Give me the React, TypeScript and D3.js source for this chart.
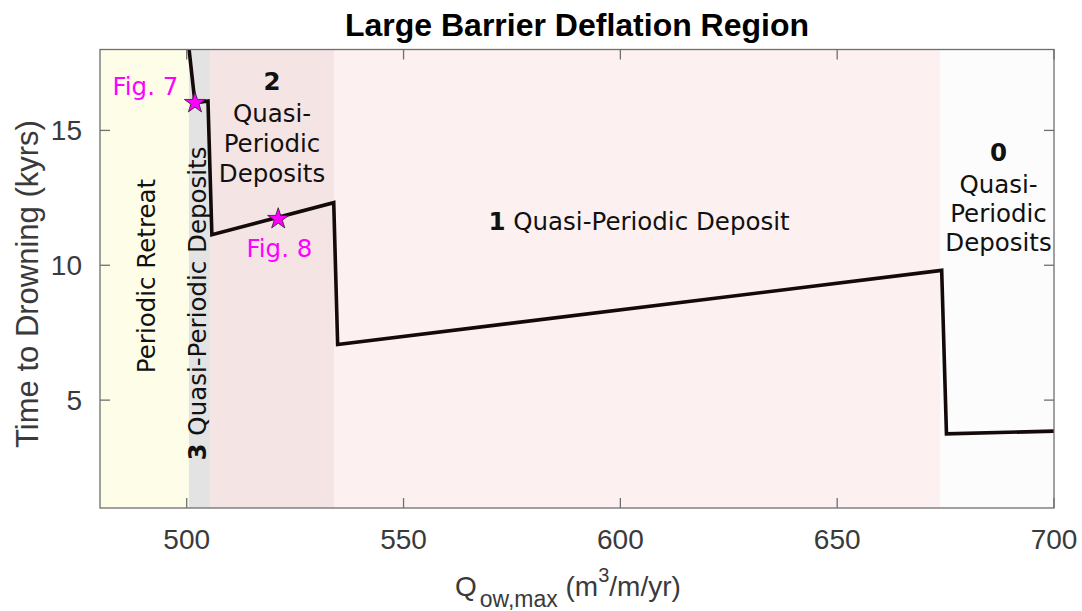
import React from "react";
import * as d3 from "d3";

// Overwash flux (m^3/m/yr) vs. time to barrier drowning (kyrs)
const qowMax = [500.2, 501.9, 504.9, 505.8, 533.9, 534.8, 674.1, 675.2, 700];
const drownTime = [18.5, 16.02, 16.09, 11.13, 12.32, 7.06, 9.81, 3.75, 3.85];

// Shaded behaviour regimes along the flux axis
const regionStart = [480, 500.5, 505.4, 534.0, 673.7];
const regionEnd = [500.5, 505.4, 534.0, 673.7, 700];
const regionFill = ["#fefee8", "#e3e3e3", "#f5e4e4", "#fdf0f0", "#fcfcfc"];

// Highlighted simulations
const starQ = [501.9, 521.1];
const starT = [16.02, 11.72];
const starLabel = ["Fig. 7", "Fig. 8"];

const xTicks = [500, 550, 600, 650, 700];
const yTicks = [5, 10, 15];

const W = 1082;
const H = 611;
const left = 100;
const right = 1054;
const top = 49.5;
const bottom = 508;

const AXIS_FONT = "'Liberation Sans', Arial, Helvetica, sans-serif";
const NOTE_FONT = "'DejaVu Sans', Verdana, sans-serif";

export default function App() {
  const x = d3.scaleLinear().domain([480, 700]).range([left, right]);
  const y = d3.scaleLinear().domain([1, 18]).range([bottom, top]);

  const pts: [number, number][] = qowMax.map((q, i) => [q, drownTime[i]]);
  const line = d3
    .line<[number, number]>()
    .x((d) => x(d[0]))
    .y((d) => y(d[1]));

  const star = d3.symbol().type(d3.symbolStar).size(140)() as string;
  const tickLen = 10;
  const axisColor = "#6f6f6f";
  const labelColor = "#3a3a3a";
  const noteSize = 24.5;

  return (
    <svg
      width={W}
      height={H}
      style={{ position: "absolute", left: 0, top: 0, background: "#fff" }}
    >
      <defs>
        <clipPath id="plotClip">
          <rect x={left} y={top} width={right - left} height={bottom - top} />
        </clipPath>
      </defs>

      {/* regime shading */}
      {regionStart.map((s, i) => (
        <rect
          key={"r" + i}
          x={x(s)}
          y={top}
          width={x(regionEnd[i]) - x(s)}
          height={bottom - top}
          fill={regionFill[i]}
        />
      ))}

      {/* regime labels */}
      <g fontFamily={NOTE_FONT} fontSize={noteSize} fill="#111">
        <text transform={`translate(155,276) rotate(-90)`} textAnchor="middle">
          Periodic Retreat
        </text>
        <text transform={`translate(206,303.5) rotate(-90)`} textAnchor="middle">
          <tspan fontWeight="bold">3</tspan> Quasi-Periodic Deposits
        </text>
        <g textAnchor="middle">
          <text x={272} y={90} fontWeight="bold">2</text>
          <text x={272} y={122}>Quasi-</text>
          <text x={272} y={152}>Periodic</text>
          <text x={272} y={182}>Deposits</text>
        </g>
        <text x={639} y={230} textAnchor="middle">
          <tspan fontWeight="bold">1</tspan> Quasi-Periodic Deposit
        </text>
        <g textAnchor="middle">
          <text x={998.5} y={161} fontWeight="bold">0</text>
          <text x={998.5} y={193}>Quasi-</text>
          <text x={998.5} y={222}>Periodic</text>
          <text x={998.5} y={251}>Deposits</text>
        </g>
      </g>

      {/* drowning-time curve */}
      <path
        d={line(pts) || ""}
        fill="none"
        stroke="#140a0a"
        strokeWidth={3.6}
        strokeLinejoin="miter"
        clipPath="url(#plotClip)"
      />

      {/* highlighted runs */}
      {starQ.map((q, i) => (
        <path
          key={"s" + i}
          d={star}
          transform={`translate(${x(q)},${y(starT[i])})`}
          fill="#ff00ff"
          stroke="#222"
          strokeWidth={0.8}
        />
      ))}
      <g fontFamily={NOTE_FONT} fontSize={noteSize} fill="#ff00ff">
        <text x={112.5} y={95}>{starLabel[0]}</text>
        <text x={246.5} y={256.5}>{starLabel[1]}</text>
      </g>

      {/* axes box and ticks */}
      <rect
        x={left}
        y={top}
        width={right - left}
        height={bottom - top}
        fill="none"
        stroke={axisColor}
        strokeWidth={1.3}
      />
      {xTicks.map((t) => (
        <g key={"xt" + t} stroke={axisColor} strokeWidth={1.3}>
          <line x1={x(t)} x2={x(t)} y1={bottom} y2={bottom - tickLen} />
          <line x1={x(t)} x2={x(t)} y1={top} y2={top + tickLen} />
        </g>
      ))}
      {yTicks.map((t) => (
        <g key={"yt" + t} stroke={axisColor} strokeWidth={1.3}>
          <line x1={left} x2={left + tickLen} y1={y(t)} y2={y(t)} />
          <line x1={right} x2={right - tickLen} y1={y(t)} y2={y(t)} />
        </g>
      ))}

      <g fontFamily={AXIS_FONT} fontSize={28} fill={labelColor}>
        {xTicks.map((t) => (
          <text key={"xl" + t} x={x(t)} y={549} textAnchor="middle">
            {t}
          </text>
        ))}
        {yTicks.map((t) => (
          <text key={"yl" + t} x={82} y={y(t) + 10} textAnchor="end">
            {t}
          </text>
        ))}
      </g>

      {/* axis titles */}
      <text
        transform={`translate(38,284) rotate(-90)`}
        textAnchor="middle"
        fontFamily={AXIS_FONT}
        fontSize={31}
        fill={labelColor}
      >
        Time to Drowning (kyrs)
      </text>
      <text x={455} y={596} fontFamily={AXIS_FONT} fontSize={28} fill={labelColor}>
        Q
        <tspan dx={3} dy={11} fontSize={23}>ow,max</tspan>
        <tspan dy={-11} fontSize={28}> (m</tspan>
        <tspan dy={-14} fontSize={20}>3</tspan>
        <tspan dy={14} fontSize={28}>/m/yr)</tspan>
      </text>

      <text
        x={(left + right) / 2}
        y={36}
        textAnchor="middle"
        fontFamily={AXIS_FONT}
        fontSize={32}
        fontWeight="bold"
        fill="#000"
      >
        Large Barrier Deflation Region
      </text>
    </svg>
  );
}
